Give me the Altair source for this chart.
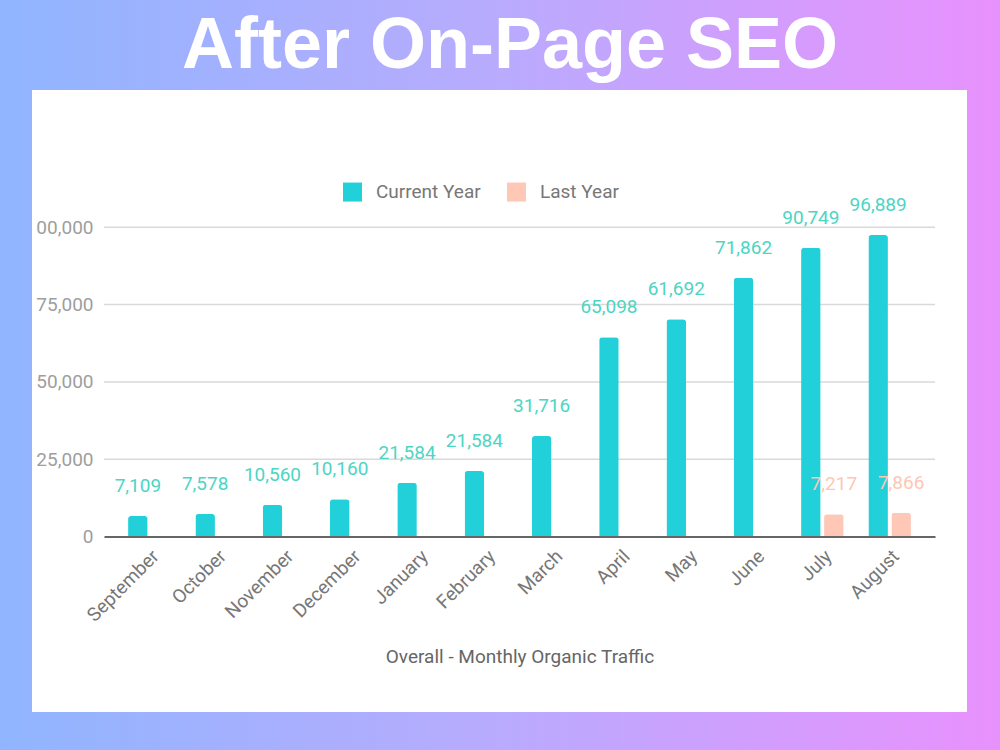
import altair as alt
import pandas as pd

months = ["September", "October", "November", "December", "January", "February",
          "March", "April", "May", "June", "July", "August"]
series = ["Current Year", "Last Year"]
current_bars = [6630, 7280, 10290, 12030, 17400, 21180, 32500, 64420, 70240, 83700, 93400, 97510]
current_labels = ["7,109", "7,578", "10,560", "10,160", "21,584", "21,584",
                  "31,716", "65,098", "61,692", "71,862", "90,749", "96,889"]
last_bars = [None] * 10 + [7180, 7700]
last_labels = [None] * 10 + ["7,217", "7,866"]
y_ticks = [0, 25000, 50000, 75000, 100000]
grid_values = [25000, 50000, 75000, 100000]

rows = []
for i, m in enumerate(months):
    rows.append({"Month": m, "Series": "Current Year", "Value": current_bars[i], "Label": current_labels[i]})
    if last_bars[i] is not None:
        rows.append({"Month": m, "Series": "Last Year", "Value": last_bars[i], "Label": last_labels[i]})
df = pd.DataFrame(rows)

W, H = 831, 309.2
PAD_L, PAD_T = 104, 227.3
FONT = "Roboto"
FS = 19
TEAL = "#22d0da"
PEACH = "#ffc7b5"

one = alt.Data(values=[{"a": 1}])

bg = alt.Chart(one).mark_rect(
    color=alt.Gradient(
        gradient="linear",
        stops=[alt.GradientStop(color="#90b5ff", offset=0),
               alt.GradientStop(color="#b9abfd", offset=0.5),
               alt.GradientStop(color="#e891fd", offset=1)],
        x1=0, x2=1, y1=0, y2=0),
).encode(x=alt.value(-PAD_L), x2=alt.value(1000 - PAD_L),
         y=alt.value(-PAD_T), y2=alt.value(750 - PAD_T))

panel = alt.Chart(one).mark_rect(color="#ffffff").encode(
    x=alt.value(32 - PAD_L), x2=alt.value(967 - PAD_L),
    y=alt.value(90 - PAD_T), y2=alt.value(712 - PAD_T))

title = alt.Chart(one).mark_text(
    text="After On-Page SEO", font="Liberation Sans", fontWeight="bold", fontSize=72,
    color="#ffffff", align="center", baseline="alphabetic"
).encode(x=alt.value(510 - PAD_L), y=alt.value(68 - PAD_T))

grid = alt.Chart(pd.DataFrame({"v": grid_values})).mark_rule(
    color="#d9d9d9", strokeWidth=1.5
).encode(y=alt.Y("v:Q"), x=alt.value(0), x2=alt.value(W))

x_enc = alt.X("Month:N", sort=months,
              scale=alt.Scale(domain=months, paddingInner=0, paddingOuter=0.174),
              axis=alt.Axis(title="Overall - Monthly Organic Traffic", labelAngle=-45,
                            labelFont=FONT, labelFontSize=FS, labelColor="#777777",
                            labelPadding=10, ticks=False, domainColor="#666666",
                            domainWidth=2, grid=False, titleFont=FONT, titleFontSize=FS,
                            titleFontWeight="normal", titleColor="#666666",
                            titleY=120, titleBaseline="middle", zindex=1))
xo_enc = alt.XOffset("Series:N", scale=alt.Scale(domain=series, paddingInner=0.15, paddingOuter=0.538))
y_enc = alt.Y("Value:Q", scale=alt.Scale(domain=[0, 100000], nice=False),
              axis=alt.Axis(title=None, values=y_ticks, grid=False, domain=False,
                            ticks=False, labelFont=FONT, labelFontSize=FS,
                            labelColor="#9e9e9e", labelPadding=11,
                            labelExpr="datum.value == 100000 ? '00,000' : format(datum.value, ',')",
                            zindex=1))

bars = alt.Chart(df).mark_bar(cornerRadiusEnd=3).encode(
    x=x_enc, xOffset=xo_enc, y=y_enc,
    color=alt.Color("Series:N", scale=alt.Scale(domain=series, range=[TEAL, PEACH]),
                    legend=alt.Legend(title=None, orient="none", legendX=239, legendY=-45,
                                      direction="horizontal", symbolType="square",
                                      symbolSize=361, symbolStrokeWidth=0,
                                      labelFont=FONT, labelFontSize=FS, labelColor="#777777",
                                      labelOffset=14, columnPadding=26, padding=0)),
)

labels = alt.Chart(df).mark_text(font=FONT, fontSize=FS, dy=-30, baseline="middle", align="center").encode(
    x=alt.X("Month:N", sort=months), xOffset=alt.XOffset("Series:N"), y=alt.Y("Value:Q"),
    text="Label:N",
    color=alt.condition(alt.datum.Series == "Current Year", alt.value("#4dd5c3"), alt.value("#ffc6b6")),
)

chart = alt.layer(bg, panel, title, grid, bars, labels).properties(
    width=W, height=H,
    autosize=alt.AutoSizeParams(type="none"),
    padding={"left": PAD_L, "top": PAD_T, "right": 1000 - PAD_L - W, "bottom": 750 - PAD_T - H},
).configure_view(stroke=None)

chart.save("out.html", embed_options={"renderer": "svg", "actions": False})
